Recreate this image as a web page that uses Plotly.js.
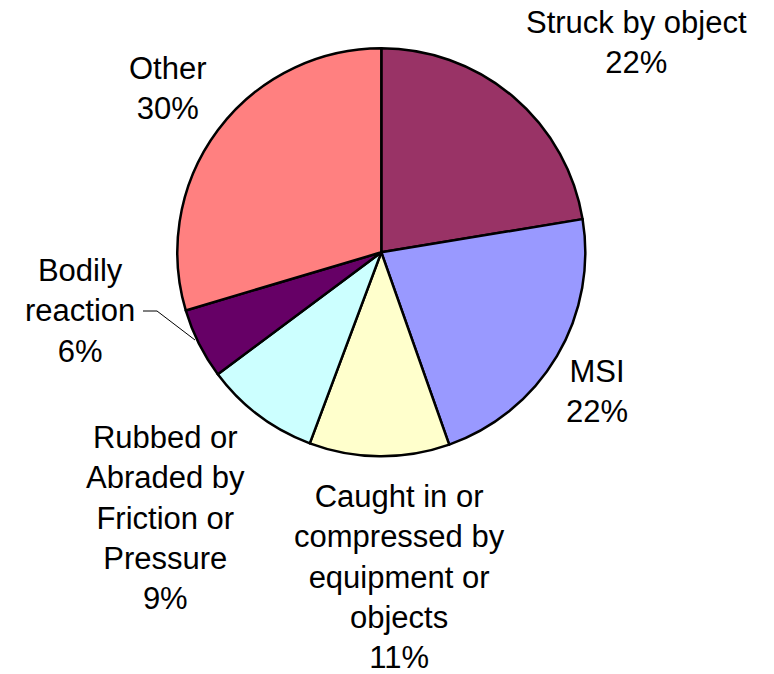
<!DOCTYPE html>
<html>
<head>
<meta charset="utf-8">
<script src="https://cdn.plot.ly/plotly-3.0.1.min.js"></script>
<style>html,body{margin:0;padding:0;background:#fff;}#chart{width:774px;height:674px;}</style>
</head>
<body>
<div id="chart"></div>
<script>
// Data
const categories = ['Struck by object', 'MSI', 'Caught in or compressed by equipment or objects', 'Rubbed or Abraded by Friction or Pressure', 'Bodily reaction', 'Other'];
const wrappedLabels = ['Struck by object', 'MSI', 'Caught in or<br>compressed by<br>equipment or<br>objects', 'Rubbed or<br>Abraded by<br>Friction or<br>Pressure', 'Bodily<br>reaction', 'Other'];
const values = [22.4, 22.2, 11.1, 9.1, 5.6, 29.6];
const percentLabels = ['22%', '22%', '11%', '9%', '6%', '30%'];
const colors = ['#993366', '#9999FF', '#FFFFCC', '#CCFFFF', '#660066', '#FF8080'];

const W = 774, H = 674;
const cx = 381.3, cy = 252.3, R = 204;
// label block centres (pixels)
const labelPos = [[636.5, 42.5], [597, 391.5], [400, 576.5], [165.5, 517.5], [80, 311], [168, 89]];

const font = {family: 'Arial, "Liberation Sans", sans-serif', size: 31, color: '#000'};

const annotations = wrappedLabels.map((t, i) => ({
  xref: 'paper', yref: 'paper',
  x: labelPos[i][0] / W, y: 1 - labelPos[i][1] / H,
  xanchor: 'center', yanchor: 'middle',
  text: t + '<br>' + percentLabels[i],
  showarrow: false, font: font, align: 'center'
}));

const leader = [[143, 311], [157, 311], [195, 340]];
const path = leader.map((p, i) => (i ? 'L' : 'M') + (p[0] / W) + ',' + (1 - p[1] / H)).join(' ');

const data = [{
  type: 'pie',
  labels: categories,
  values: values,
  sort: false,
  direction: 'clockwise',
  rotation: 0,
  textinfo: 'none',
  hoverinfo: 'label+percent',
  marker: {colors: colors, line: {color: '#000', width: 2.5}},
  domain: {x: [(cx - R) / W, (cx + R) / W], y: [1 - (cy + R) / H, 1 - (cy - R) / H]},
  showlegend: false
}];

const layout = {
  width: W, height: H,
  margin: {l: 0, r: 0, t: 0, b: 0},
  paper_bgcolor: '#fff',
  showlegend: false,
  annotations: annotations,
  shapes: [{type: 'path', xref: 'paper', yref: 'paper', path: path, line: {color: '#000', width: 1}}],
  font: font
};

Plotly.newPlot('chart', data, layout, {displayModeBar: false, staticPlot: true});
</script>
</body>
</html>
